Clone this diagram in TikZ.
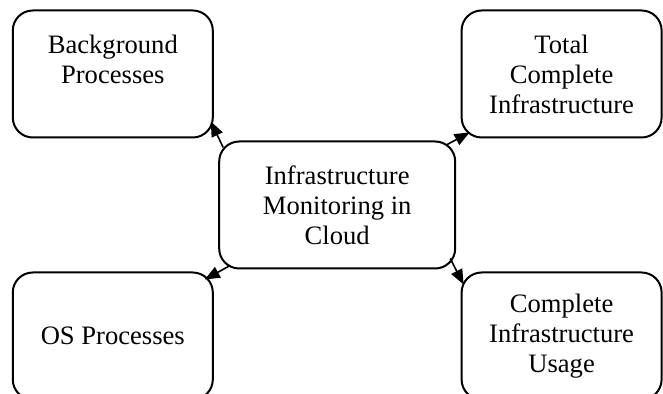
\documentclass[tikz,border=0pt]{standalone}
\usepackage{fontspec}
\setmainfont{Liberation Serif}
\usetikzlibrary{
	positioning,
	arrows.meta,
	calc}
\tikzset{
	monitor diagram/.style={
		node distance=2pt and 3.2pt,
		execute at begin picture={\useasboundingbox
			(-168.6pt,-94.5pt) rectangle (162.9pt,102.5pt);}
		},
	box width/.store in=\bwidth,
	box width=100pt,
	box height/.store in=\bheight,
	box height=63.5pt,
	box/.style={
		rectangle,
		rounded corners=10pt,
		draw=black,
		line width=1pt,
		outer sep=0pt,
		inner sep=2pt,
		align=center,
		minimum width=\bwidth,
		minimum height=\bheight,
		font=\fontsize{13.3pt}{15pt}\selectfont
	},
	main box/.style={
		box,
		minimum width=118pt
	},
	feed/.style={
		line width=0.8pt,
		-{Triangle[length=7.5pt, width=6pt]}
	},
}
\begin{document}
\begin{tikzpicture}[monitor diagram]
	\node[main box] (mid) {Infrastructure\\Monitoring in\\Cloud};
	\node[box, above left=of mid] (bg) {Background\\Processes\\\mbox{}};
	\node[box, above right=of mid] (total) {Total\\Complete\\Infrastructure};
	\node[box, below left=of mid] (os) {OS Processes};
	\node[box, below right=of mid] (usage) {Complete\\Infrastructure\\Usage};
	\draw[feed] ($(mid.north west)+(2pt,-3pt)$) -- ($(bg.south east)+(-1pt,8pt)$);
	\draw[feed] ($(mid.north east)+(-4pt,-1.5pt)$) -- ($(total.south west)+(4pt,2.5pt)$);
	\draw[feed] ($(mid.south west)+(5.5pt,1.5pt)$) -- ($(os.north east)+(-4pt,-3.5pt)$);
	\draw[feed] ($(mid.south east)+(-2.5pt,5pt)$) -- ($(usage.north west)+(1pt,-6pt)$);
\end{tikzpicture}
\end{document}
